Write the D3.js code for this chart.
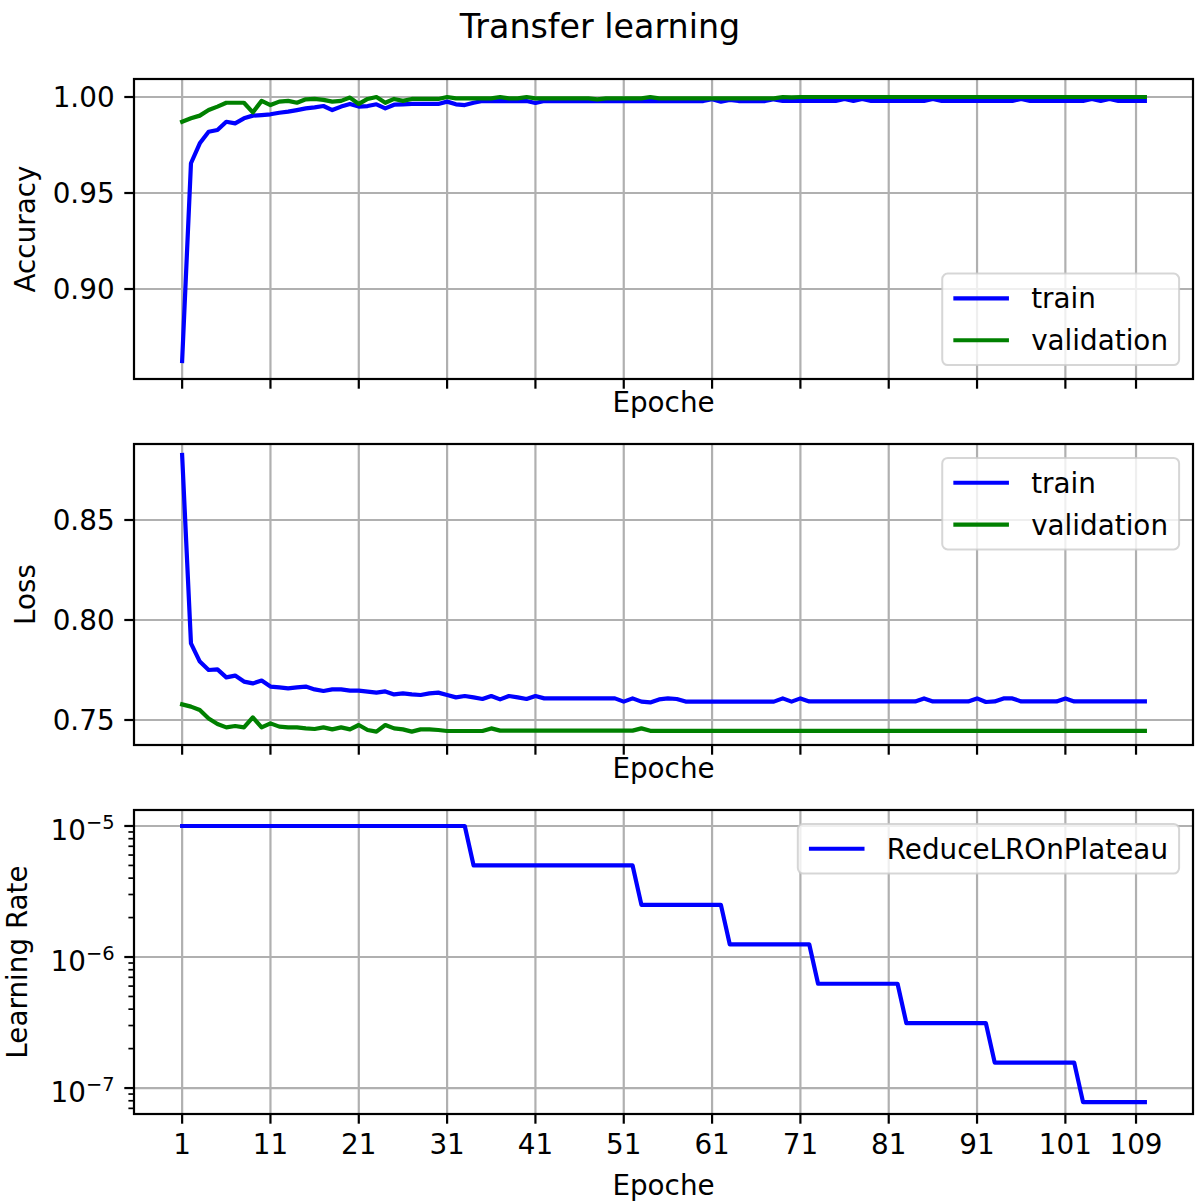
<!DOCTYPE html>
<html>
<head>
<meta charset="utf-8">
<script src="https://cdn.jsdelivr.net/npm/d3@7"></script>
<style>
  body { margin: 0; background: #fff; }
  text { font-family: "DejaVu Sans", sans-serif; fill: #000; }
</style>
</head>
<body>
<svg id="fig"></svg>
<script>
// values, one per epoch (1..110)
const trainAcc = [
  0.8625, 0.9655, 0.9759, 0.9819, 0.9828, 0.9871, 0.9863, 0.9889, 0.9903, 0.9906,
  0.9910, 0.9918, 0.9924, 0.9932, 0.9941, 0.9946, 0.9953, 0.9932, 0.9950, 0.9964,
  0.9950, 0.9953, 0.9962, 0.9941, 0.9960, 0.9962, 0.9964, 0.9964, 0.9964, 0.9964,
  0.9976, 0.9962, 0.9958, 0.9970, 0.9979, 0.9979, 0.9979, 0.9979, 0.9979, 0.9979,
  0.9969, 0.9979, 0.9979, 0.9979, 0.9979, 0.9979, 0.9979, 0.9979, 0.9979, 0.9979,
  0.9979, 0.9979, 0.9979, 0.9979, 0.9979, 0.9979, 0.9979, 0.9979, 0.9979, 0.9979,
  0.9988, 0.9976, 0.9985, 0.9979, 0.9979, 0.9979, 0.9979, 0.9988, 0.9980, 0.9980,
  0.9980, 0.9980, 0.9980, 0.9980, 0.9980, 0.9990, 0.9980, 0.9990, 0.9980, 0.9980,
  0.9980, 0.9980, 0.9980, 0.9980, 0.9980, 0.9990, 0.9980, 0.9980, 0.9980, 0.9980,
  0.9980, 0.9980, 0.9980, 0.9980, 0.9980, 0.9990, 0.9980, 0.9980, 0.9980, 0.9980,
  0.9980, 0.9980, 0.9980, 0.9990, 0.9980, 0.9990, 0.9980, 0.9980, 0.9980, 0.9980
];
const valAcc = [
  0.9871, 0.9889, 0.9903, 0.9932, 0.9950, 0.9970, 0.9970, 0.9970, 0.9920, 0.9980,
  0.9958, 0.9976, 0.9980, 0.9970, 0.9988, 0.9990, 0.9985, 0.9976, 0.9980, 0.9997,
  0.9964, 0.9990, 1.0000, 0.9970, 0.9990, 0.9980, 0.9990, 0.9990, 0.9990, 0.9990,
  1.0000, 0.9993, 0.9993, 0.9993, 0.9993, 0.9993, 1.0000, 0.9993, 0.9993, 1.0000,
  0.9993, 0.9993, 0.9993, 0.9993, 0.9993, 0.9993, 0.9993, 0.9988, 0.9993, 0.9993,
  0.9993, 0.9993, 0.9993, 1.0000, 0.9993, 0.9993, 0.9993, 0.9993, 0.9993, 0.9993,
  0.9993, 0.9993, 0.9993, 0.9993, 0.9993, 0.9993, 0.9993, 0.9993, 1.0000, 0.9998,
  1.0000, 1.0000, 1.0000, 1.0000, 1.0000, 1.0000, 1.0000, 1.0000, 1.0000, 1.0000,
  1.0000, 1.0000, 1.0000, 1.0000, 1.0000, 1.0000, 1.0000, 1.0000, 1.0000, 1.0000,
  1.0000, 1.0000, 1.0000, 1.0000, 1.0000, 1.0000, 1.0000, 1.0000, 1.0000, 1.0000,
  1.0000, 1.0000, 1.0000, 1.0000, 1.0000, 1.0000, 1.0000, 1.0000, 1.0000, 1.0000
];
const trainLoss = [
  0.8825, 0.7883, 0.7792, 0.7750, 0.7753, 0.7713, 0.7722, 0.7692, 0.7683, 0.7697,
  0.7667, 0.7663, 0.7658, 0.7663, 0.7667, 0.7653, 0.7645, 0.7653, 0.7653, 0.7647,
  0.7647, 0.7642, 0.7637, 0.7643, 0.7628, 0.7633, 0.7628, 0.7625, 0.7633, 0.7637,
  0.7625, 0.7613, 0.7620, 0.7613, 0.7605, 0.7620, 0.7603, 0.7620, 0.7613, 0.7605,
  0.7620, 0.7608, 0.7608, 0.7608, 0.7608, 0.7608, 0.7608, 0.7608, 0.7608, 0.7608,
  0.7592, 0.7608, 0.7592, 0.7588, 0.7603, 0.7608, 0.7605, 0.7592, 0.7592, 0.7592,
  0.7592, 0.7592, 0.7592, 0.7592, 0.7592, 0.7592, 0.7592, 0.7592, 0.7608, 0.7592,
  0.7608, 0.7593, 0.7593, 0.7593, 0.7593, 0.7593, 0.7593, 0.7593, 0.7593, 0.7593,
  0.7593, 0.7593, 0.7593, 0.7593, 0.7608, 0.7593, 0.7593, 0.7593, 0.7593, 0.7593,
  0.7608, 0.7590, 0.7593, 0.7608, 0.7608, 0.7593, 0.7593, 0.7593, 0.7593, 0.7593,
  0.7608, 0.7593, 0.7593, 0.7593, 0.7593, 0.7593, 0.7593, 0.7593, 0.7593, 0.7593
];
const valLoss = [
  0.7578, 0.7567, 0.7550, 0.7508, 0.7480, 0.7463, 0.7470, 0.7463, 0.7513, 0.7463,
  0.7483, 0.7467, 0.7463, 0.7463, 0.7458, 0.7455, 0.7463, 0.7453, 0.7463, 0.7453,
  0.7475, 0.7450, 0.7442, 0.7475, 0.7458, 0.7453, 0.7442, 0.7453, 0.7453, 0.7450,
  0.7445, 0.7445, 0.7445, 0.7445, 0.7445, 0.7458, 0.7447, 0.7447, 0.7447, 0.7447,
  0.7447, 0.7447, 0.7447, 0.7447, 0.7447, 0.7447, 0.7447, 0.7447, 0.7447, 0.7447,
  0.7447, 0.7447, 0.7458, 0.7446, 0.7446, 0.7446, 0.7446, 0.7446, 0.7446, 0.7446,
  0.7446, 0.7446, 0.7446, 0.7446, 0.7446, 0.7446, 0.7446, 0.7446, 0.7446, 0.7446,
  0.7446, 0.7446, 0.7446, 0.7446, 0.7446, 0.7446, 0.7446, 0.7446, 0.7446, 0.7446,
  0.7446, 0.7446, 0.7446, 0.7446, 0.7446, 0.7446, 0.7446, 0.7446, 0.7446, 0.7446,
  0.7446, 0.7446, 0.7446, 0.7446, 0.7446, 0.7446, 0.7446, 0.7446, 0.7446, 0.7446,
  0.7446, 0.7446, 0.7446, 0.7446, 0.7446, 0.7446, 0.7446, 0.7446, 0.7446, 0.7446
];
const learningRate = [
  1e-5, 1e-5, 1e-5, 1e-5, 1e-5, 1e-5, 1e-5, 1e-5, 1e-5, 1e-5,
  1e-5, 1e-5, 1e-5, 1e-5, 1e-5, 1e-5, 1e-5, 1e-5, 1e-5, 1e-5,
  1e-5, 1e-5, 1e-5, 1e-5, 1e-5, 1e-5, 1e-5, 1e-5, 1e-5, 1e-5,
  1e-5, 1e-5, 1e-5, 5e-6, 5e-6, 5e-6, 5e-6, 5e-6, 5e-6, 5e-6,
  5e-6, 5e-6, 5e-6, 5e-6, 5e-6, 5e-6, 5e-6, 5e-6, 5e-6, 5e-6,
  5e-6, 5e-6, 2.5e-6, 2.5e-6, 2.5e-6, 2.5e-6, 2.5e-6, 2.5e-6, 2.5e-6, 2.5e-6,
  2.5e-6, 2.5e-6, 1.25e-6, 1.25e-6, 1.25e-6, 1.25e-6, 1.25e-6, 1.25e-6, 1.25e-6, 1.25e-6,
  1.25e-6, 1.25e-6, 6.25e-7, 6.25e-7, 6.25e-7, 6.25e-7, 6.25e-7, 6.25e-7, 6.25e-7, 6.25e-7,
  6.25e-7, 6.25e-7, 3.125e-7, 3.125e-7, 3.125e-7, 3.125e-7, 3.125e-7, 3.125e-7, 3.125e-7, 3.125e-7,
  3.125e-7, 3.125e-7, 1.5625e-7, 1.5625e-7, 1.5625e-7, 1.5625e-7, 1.5625e-7, 1.5625e-7, 1.5625e-7, 1.5625e-7,
  1.5625e-7, 1.5625e-7, 7.8125e-8, 7.8125e-8, 7.8125e-8, 7.8125e-8, 7.8125e-8, 7.8125e-8, 7.8125e-8, 7.8125e-8
];

const xTicks = [1, 11, 21, 31, 41, 51, 61, 71, 81, 91, 101, 109];
const accTicks = [0.90, 0.95, 1.00];
const lossTicks = [0.75, 0.80, 0.85];
const lrTicks = [1e-7, 1e-6, 1e-5];

const width = 1200, height = 1202;
const fs = 27.8;             // 10pt at 200 dpi
const lineW = 4.2, spineW = 2.2, tickLen = 9.7;
const axLeft = 134, axRight = 1193;

const svg = d3.select("#fig")
  .attr("width", width)
  .attr("height", height)
  .attr("viewBox", [0, 0, width, height]);

svg.append("rect").attr("width", width).attr("height", height).attr("fill", "#fff");

svg.append("text")
  .attr("x", 600).attr("y", 38)
  .attr("text-anchor", "middle")
  .attr("font-size", 33.3)
  .text("Transfer learning");

const x = d3.scaleLinear().domain([-4.45, 115.45]).range([axLeft, axRight]);

const panels = [
  {
    top: 79, bottom: 379,
    y: d3.scaleLinear().domain([0.85313, 1.00938]).range([379, 79]),
    ticks: accTicks, fmt: d3.format(".2f"),
    label: "Accuracy", labelX: 35, xlabelY: 412, xTickLabels: false,
    legend: "lower",
    series: [
      { name: "train", values: trainAcc, color: "blue" },
      { name: "validation", values: valAcc, color: "green" }
    ]
  },
  {
    top: 444, bottom: 745,
    y: d3.scaleLinear().domain([0.7375, 0.888]).range([745, 444]),
    ticks: lossTicks, fmt: d3.format(".2f"),
    label: "Loss", labelX: 35, xlabelY: 778, xTickLabels: false,
    legend: "upper",
    series: [
      { name: "train", values: trainLoss, color: "blue" },
      { name: "validation", values: valLoss, color: "green" }
    ]
  },
  {
    top: 810, bottom: 1114,
    y: d3.scaleLog().domain([Math.pow(10, -7.198), Math.pow(10, -4.878)]).range([1114, 810]),
    ticks: lrTicks, log: true,
    label: "Learning Rate", labelX: 27, xlabelY: 1195, xTickLabels: true,
    legend: "upper",
    series: [
      { name: "ReduceLROnPlateau", values: learningRate, color: "blue" }
    ]
  }
];

panels.forEach((p, k) => {
  const g = svg.append("g");
  const y = p.y;

  g.append("clipPath").attr("id", "clip" + k)
    .append("rect")
    .attr("x", axLeft).attr("y", p.top)
    .attr("width", axRight - axLeft).attr("height", p.bottom - p.top);

  // grid
  const grid = g.append("g").attr("stroke", "#b0b0b0").attr("stroke-width", spineW);
  grid.selectAll(".gx").data(xTicks).join("line")
    .attr("x1", d => x(d)).attr("x2", d => x(d))
    .attr("y1", p.top).attr("y2", p.bottom);
  grid.selectAll(".gy").data(p.ticks).join("line")
    .attr("x1", axLeft).attr("x2", axRight)
    .attr("y1", d => y(d)).attr("y2", d => y(d));

  // series
  const line = d3.line().x((d, i) => x(i + 1)).y(d => y(d));
  g.append("g").attr("clip-path", `url(#clip${k})`)
    .selectAll("path").data(p.series).join("path")
    .attr("fill", "none")
    .attr("stroke", d => d.color)
    .attr("stroke-width", lineW)
    .attr("stroke-linejoin", "round")
    .attr("stroke-linecap", "square")
    .attr("d", d => line(d.values));

  // spines
  g.append("rect")
    .attr("x", axLeft).attr("y", p.top)
    .attr("width", axRight - axLeft).attr("height", p.bottom - p.top)
    .attr("fill", "none").attr("stroke", "#000").attr("stroke-width", spineW);

  // x ticks
  g.append("g").attr("stroke", "#000").attr("stroke-width", spineW)
    .selectAll("line").data(xTicks).join("line")
    .attr("x1", d => x(d)).attr("x2", d => x(d))
    .attr("y1", p.bottom).attr("y2", p.bottom + tickLen);
  if (p.xTickLabels) {
    g.append("g").selectAll("text").data(xTicks).join("text")
      .attr("x", d => x(d)).attr("y", p.bottom + tickLen + 9.7 + 20.3)
      .attr("text-anchor", "middle").attr("font-size", fs)
      .text(d => d);
  }

  // y ticks
  g.append("g").attr("stroke", "#000").attr("stroke-width", spineW)
    .selectAll("line").data(p.ticks).join("line")
    .attr("x1", axLeft - tickLen).attr("x2", axLeft)
    .attr("y1", d => y(d)).attr("y2", d => y(d));

  if (p.log) {
    const [lo, hi] = y.domain();
    const minor = [];
    for (let e = -8; e <= -5; e++) {
      for (let m = 2; m <= 9; m++) {
        const v = m * Math.pow(10, e);
        if (v >= lo && v <= hi) minor.push(v);
      }
    }
    g.append("g").attr("stroke", "#000").attr("stroke-width", 1.7)
      .selectAll("line").data(minor).join("line")
      .attr("x1", axLeft - 5.6).attr("x2", axLeft)
      .attr("y1", d => y(d)).attr("y2", d => y(d));

    const lab = g.append("g").selectAll("text").data(p.ticks).join("text")
      .attr("x", axLeft - tickLen - 9.7).attr("y", d => y(d) + 14)
      .attr("text-anchor", "end").attr("font-size", fs);
    lab.append("tspan").text("10");
    lab.append("tspan").attr("font-size", fs * 0.7).attr("dy", -11)
      .text(d => "\u2212" + Math.round(-Math.log10(d)));
  } else {
    g.append("g").selectAll("text").data(p.ticks).join("text")
      .attr("x", axLeft - tickLen - 9.7).attr("y", d => y(d) + 10)
      .attr("text-anchor", "end").attr("font-size", fs)
      .text(d => p.fmt(d));
  }

  // axis labels
  g.append("text")
    .attr("x", (axLeft + axRight) / 2).attr("y", p.xlabelY)
    .attr("text-anchor", "middle").attr("font-size", fs)
    .text("Epoche");
  g.append("text")
    .attr("transform", `translate(${p.labelX},${(p.top + p.bottom) / 2}) rotate(-90)`)
    .attr("text-anchor", "middle").attr("font-size", fs)
    .text(p.label);

  // legend
  const pad = 11.1, handle = 55.6, textPad = 22.2, rowH = 27.5, gap = 14.3;
  const leg = g.append("g");
  const box = leg.append("rect");
  const items = leg.selectAll("g").data(p.series).join("g");
  items.append("line").attr("stroke", d => d.color).attr("stroke-width", lineW);
  const texts = items.append("text").attr("font-size", fs).text(d => d.name);
  const textW = d3.max(texts.nodes(), n => n.getComputedTextLength());
  const boxW = pad * 2 + handle + textPad + textW;
  const boxH = pad * 2 + p.series.length * rowH + (p.series.length - 1) * gap;
  const bx = axRight - 13.9 - boxW;
  const by = p.legend === "lower" ? p.bottom - 13.9 - boxH : p.top + 13.9;
  box.attr("x", bx).attr("y", by).attr("width", boxW).attr("height", boxH)
    .attr("rx", 5.5)
    .attr("fill", "#fff").attr("fill-opacity", 0.8)
    .attr("stroke", "#cccccc").attr("stroke-opacity", 0.8).attr("stroke-width", 2);
  items.each(function (d, i) {
    const cy = by + pad + rowH / 2 + i * (rowH + gap);
    const it = d3.select(this);
    it.select("line")
      .attr("x1", bx + pad).attr("x2", bx + pad + handle)
      .attr("y1", cy).attr("y2", cy);
    it.select("text")
      .attr("x", bx + pad + handle + textPad).attr("y", cy + 10);
  });
});
</script>
</body>
</html>
